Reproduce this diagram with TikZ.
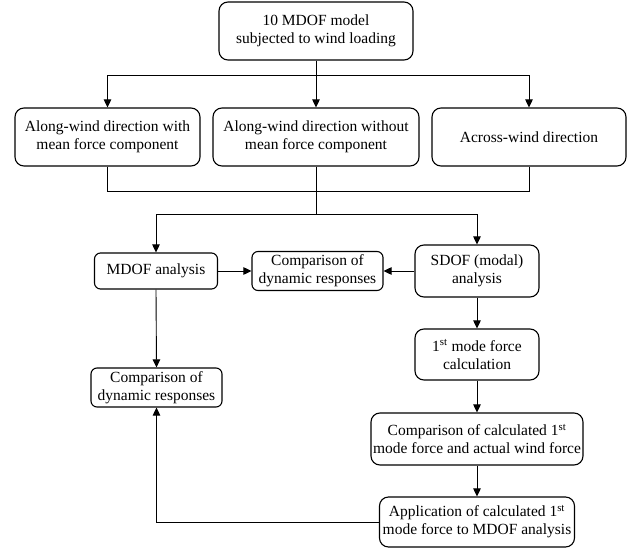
\documentclass[tikz,border=0pt]{standalone}
\usepackage{fontspec}
\setmainfont{Liberation Serif}
\usetikzlibrary{arrows.meta}
\begin{document}
\begin{tikzpicture}[x=1pt,y=-1pt,
  box/.style={draw, line width=1.1pt, rounded corners=9pt, align=center, inner sep=1pt,
    font=\fontsize{15.5}{18}\selectfont},
  sbox/.style={box, rounded corners=6pt},
  conn/.style={draw, line width=0.9pt},
  arr/.style={conn, -{Triangle[length=8pt,width=7.5pt]}}]
\useasboundingbox (0,0) rectangle (633,549);
% nodes
\node[box, minimum width=194pt, minimum height=58pt] (top) at (316,31) {10 MDOF model\\subjected to wind loading};
\node[box, minimum width=185pt, minimum height=58pt] (A) at (107.5,137) {Along-wind direction with\\mean force component};
\node[box, minimum width=206pt, minimum height=58pt] (B) at (316,137) {Along-wind direction without\\mean force component};
\node[box, minimum width=194pt, minimum height=58pt] (C) at (529,137) {Across-wind direction};
\node[sbox, minimum width=123pt, minimum height=36pt] (mdof) at (156,271) {MDOF analysis};
\node[sbox, minimum width=131pt, minimum height=39pt] (cmpmid) at (317.5,271) {Comparison of\\dynamic responses};
\node[box, minimum width=124pt, minimum height=52pt] (sdof) at (477,271) {SDOF (modal)\\analysis};
\node[box, minimum width=124pt, minimum height=51pt] (mode) at (477,354.5) {1\textsuperscript{st} mode force\\calculation};
\node[sbox, minimum width=131pt, minimum height=39pt] (cmpleft) at (156.5,387.5) {Comparison of\\dynamic responses};
\node[box, minimum width=212pt, minimum height=52pt] (calc) at (477,439) {Comparison of calculated 1\textsuperscript{st}\\mode force and actual wind force};
\node[box, minimum width=195pt, minimum height=50pt] (app) at (477,522) {Application of calculated 1\textsuperscript{st}\\mode force to MDOF analysis};
% helper coordinates
\coordinate (dl) at (0,75);
\coordinate (jl) at (0,191);
\coordinate (sl) at (0,214);
% connectors
\draw[arr] (top.south) -- (B.north);
\draw[conn] (A.north |- dl) -- (C.north |- dl);
\draw[arr] (A.north |- dl) -- (A.north);
\draw[arr] (C.north |- dl) -- (C.north);
\draw[conn] (A.south) -- (A.south |- jl) -- (C.south |- jl) -- (C.south);
\draw[conn] (B.south) -- (B.south |- sl);
\draw[conn] (mdof.north |- sl) -- (sdof.north |- sl);
\draw[arr] (mdof.north |- sl) -- (mdof.north);
\draw[arr] (sdof.north |- sl) -- (sdof.north);
\draw[arr] (mdof.east) -- (cmpmid.west);
\draw[arr] (sdof.west) -- (cmpmid.east);
\draw[arr] (mdof.south) -- (cmpleft.north);
\draw[arr] (sdof.south) -- (mode.north);
\draw[arr] (mode.south) -- (calc.north);
\draw[arr] (calc.south) -- (app.north);
\draw[arr] (app.west) -| (cmpleft.south);
\end{tikzpicture}
\end{document}
